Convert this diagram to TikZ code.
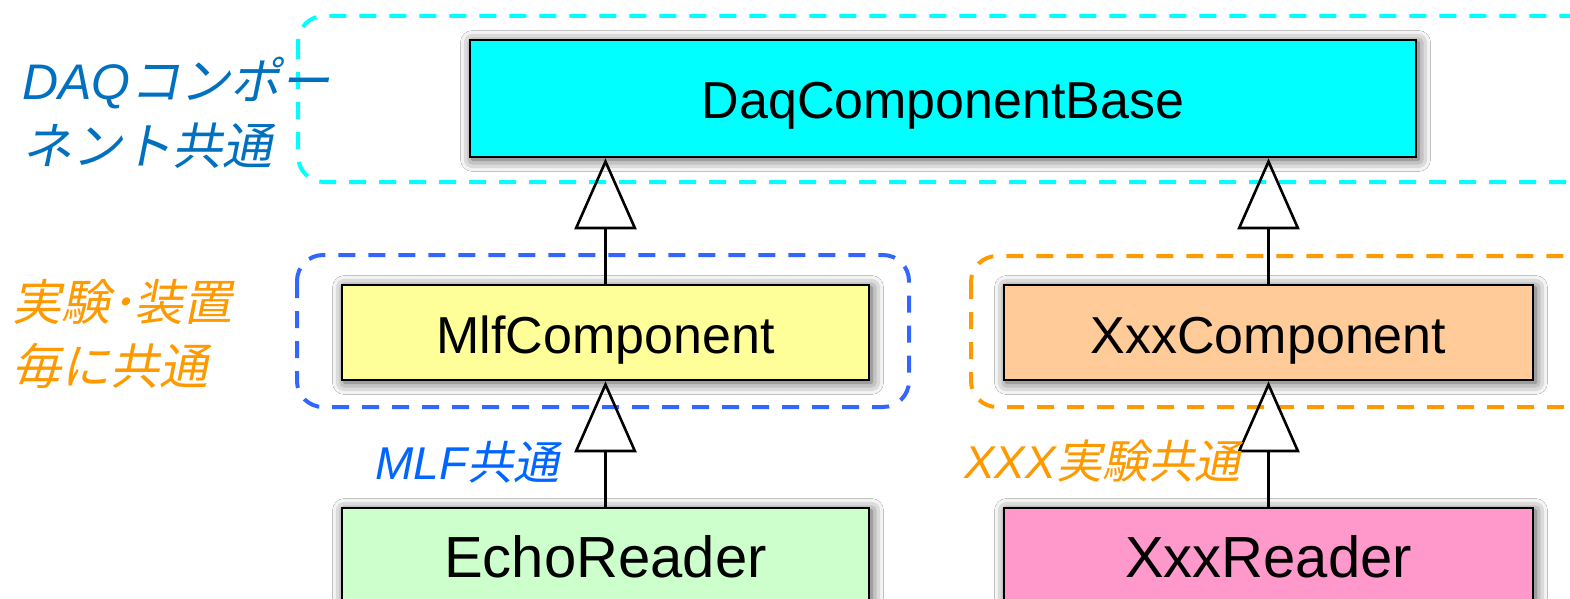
\documentclass[tikz,border=0pt]{standalone}
\usepackage{fontspec}
\setmainfont{Liberation Sans}
\newfontfamily\jpfont[FakeSlant=0.2]{Noto Sans CJK JP}
\usetikzlibrary{arrows.meta,shadows.blur}

\definecolor{daqtxt}{HTML}{0070C0}
\definecolor{orgtxt}{HTML}{FF9900}
\definecolor{mlftxt}{HTML}{0066FF}
\definecolor{cyanline}{HTML}{00FFFF}
\definecolor{blueline}{HTML}{3366FF}
\definecolor{orgline}{HTML}{FF9900}
\definecolor{basefill}{HTML}{00FFFF}
\definecolor{mlffill}{HTML}{FFFF99}
\definecolor{xxxfill}{HTML}{FFCC99}
\definecolor{echofill}{HTML}{CCFFCC}
\definecolor{readfill}{HTML}{FF99CC}

\begin{document}
\begin{tikzpicture}[x=1pt,y=-1pt,
  classbox/.style={draw=black, line width=2.6pt, rectangle, inner sep=0pt,
    font=\fontsize{52}{60}\selectfont, text height=41pt, text depth=0pt,
    blur shadow={shadow xshift=2.5pt, shadow yshift=-2.5pt,
      shadow blur radius=12pt, shadow opacity=75}},
  readerbox/.style={classbox, font=\fontsize{58}{64}\selectfont,
    text height=44.5pt},
  groupframe/.style={line width=4pt, dash pattern=on 17pt off 13pt,
    rounded corners=26pt},
  grouplabel/.style={inner sep=0pt, align=left, anchor=base west},
  inherits/.style={line width=2.6pt,
    -{Triangle[open, length=71pt, width=62pt]}}]

  \clip (0,0) rectangle (1570,599);
  \fill[white] (0,0) rectangle (1570,599);

  % grouping frames
  \draw[groupframe, cyanline] (298,16) rectangle (1596,182);
  \draw[groupframe, blueline] (297,255) rectangle (909,407);
  \draw[groupframe, orgline] (971,256) rectangle (1596,407);

  % classes
  \node[classbox, fill=basefill, minimum width=946pt, minimum height=117pt]
    (base) at (943,98.5) {DaqComponentBase};
  \node[classbox, fill=mlffill, minimum width=527pt, minimum height=95pt]
    (mlf) at (605.5,332.5) {MlfComponent};
  \node[classbox, fill=xxxfill, minimum width=529pt, minimum height=95pt]
    (xxxc) at (1268.5,332.5) {XxxComponent};
  \node[readerbox, fill=echofill, minimum width=527pt, minimum height=95pt]
    (echo) at (605.5,555.5) {EchoReader};
  \node[readerbox, fill=readfill, minimum width=529pt, minimum height=95pt]
    (xxxr) at (1268.5,555.5) {XxxReader};

  % generalisation arrows
  \draw[inherits] (mlf.north) -- (mlf.north |- base.south);
  \draw[inherits] (xxxc.north) -- (xxxc.north |- base.south);
  \draw[inherits] (echo.north) -- (mlf.south);
  \draw[inherits] (xxxr.north) -- (xxxc.south);

  % group labels (anchored at the baseline of their last line)
  \node[grouplabel, text=daqtxt, font=\fontsize{50}{64}\selectfont]
    (lbldaq) at (22,164) {{\itshape DAQ}{\jpfont コンポー}\\{\jpfont ネント共通}};
  \node[grouplabel, text=orgtxt, font=\fontsize{49}{64}\selectfont]
    (lblexp) at (12,384) {{\jpfont 実験･装置}\\{\jpfont 毎に共通}};
  \node[grouplabel, text=mlftxt, font=\fontsize{46}{50}\selectfont]
    (lblmlf) at (375,479) {{\itshape MLF}{\jpfont 共通}};
  \node[grouplabel, text=orgtxt, font=\fontsize{46}{50}\selectfont]
    (lblxxx) at (964,478) {{\itshape XXX}{\jpfont 実験共通}};
\end{tikzpicture}
\end{document}
